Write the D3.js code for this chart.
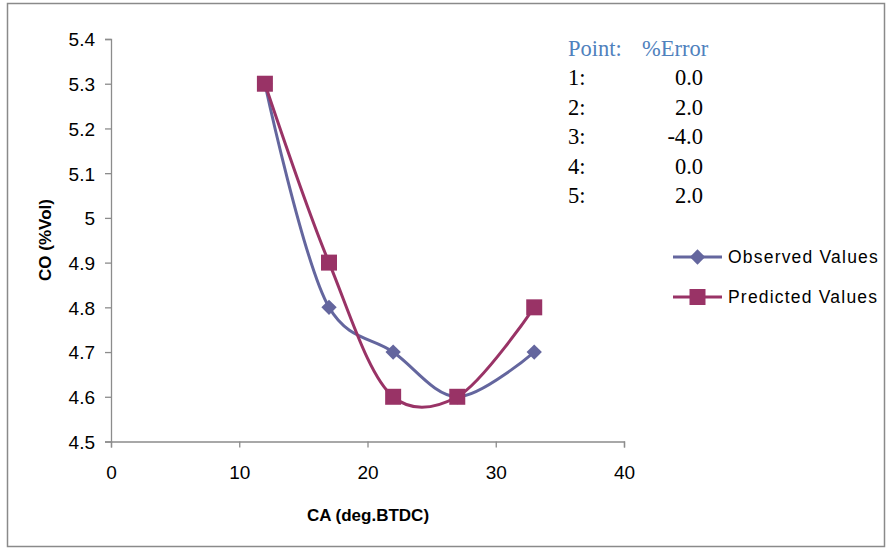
<!DOCTYPE html>
<html>
<head>
<meta charset="utf-8">
<script src="https://cdn.jsdelivr.net/npm/d3@7"></script>
<style>
  body { margin: 0; background: #fff; }
  svg { display: block; }
</style>
</head>
<body>
<script>
var caValues = [12, 17, 22, 27, 33]
var observedValues = [5.3, 4.8, 4.7, 4.6, 4.7]
var predictedValues = [5.3, 4.9, 4.6, 4.6, 4.8]

var xTicks = [0, 10, 20, 30, 40]
var yTicks = [4.5, 4.6, 4.7, 4.8, 4.9, 5, 5.1, 5.2, 5.3, 5.4]

var errorPoints = ['1:', '2:', '3:', '4:', '5:']
var errorValues = ['0.0', '2.0', '-4.0', '0.0', '2.0']

var width = 888
var height = 550
var margin = {left: 111, right: 264, top: 39, bottom: 108.5}  // plot area inside the frame

var obsColor = '#64669e'
var predColor = '#993366'

var svg = d3.select('body').append('svg')
  .attr('width', width)
  .attr('height', height)

// outer frame
svg.append('rect')
  .attr('x', 7.5).attr('y', 3.5)
  .attr('width', 877).attr('height', 543)
  .attr('fill', 'white')
  .attr('stroke', '#8a8a8a')
  .attr('stroke-width', 1.5)

var x = d3.scaleLinear()
  .domain([0, 40])
  .range([margin.left, width - margin.right])

var y = d3.scaleLinear()
  .domain([4.5, 5.4])
  .range([height - margin.bottom, margin.top])

var xAxis = d3.axisBottom(x)
  .tickValues(xTicks)
  .tickSize(6)
  .tickPadding(18)

var yAxis = d3.axisLeft(y)
  .tickValues(yTicks)
  .tickFormat(d => d === 5 ? '5' : d3.format('.1f')(d))
  .tickSize(6)
  .tickPadding(10)

var gx = svg.append('g')
  .attr('class', 'axis x')
  .attr('transform', `translate(0,${y(4.5)})`)
  .call(xAxis)

var gy = svg.append('g')
  .attr('class', 'axis y')
  .attr('transform', `translate(${x(0)},0)`)
  .call(yAxis)

svg.selectAll('.axis path, .axis line')
  .attr('stroke', '#8c8c8c')
  .attr('stroke-width', 1.3)
svg.selectAll('.axis text')
  .attr('fill', '#000')
  .style('font-family', '"Liberation Sans", Arial, sans-serif')
  .style('font-size', '19px')
gy.selectAll('text').attr('dy', '0.36em')

// axis titles
svg.append('text')
  .attr('x', 368).attr('y', 521)
  .attr('text-anchor', 'middle')
  .style('font-family', '"Liberation Sans", Arial, sans-serif')
  .style('font-size', '17px')
  .style('font-weight', 'bold')
  .text('CA (deg.BTDC)')

svg.append('text')
  .attr('transform', 'translate(51,240) rotate(-90)')
  .attr('text-anchor', 'middle')
  .style('font-family', '"Liberation Sans", Arial, sans-serif')
  .style('font-size', '17px')
  .style('font-weight', 'bold')
  .text('CO (%Vol)')

// smoothed lines (Excel-style smoothing)
var line = d3.line()
  .x((d, i) => x(caValues[i]))
  .y(d => y(d))
  .curve(d3.curveCatmullRom.alpha(0.25))

svg.append('path')
  .attr('d', line(observedValues))
  .attr('fill', 'none')
  .attr('stroke', obsColor)
  .attr('stroke-width', 3)

svg.append('path')
  .attr('d', line(predictedValues))
  .attr('fill', 'none')
  .attr('stroke', predColor)
  .attr('stroke-width', 3)

var diamond = d3.symbol().type(d3.symbolDiamond2).size(150)
var square = d3.symbol().type(d3.symbolSquare).size(256)

svg.append('g').selectAll('path')
  .data(observedValues)
  .join('path')
  .attr('d', diamond)
  .attr('transform', (d, i) => `translate(${x(caValues[i])},${y(d)})`)
  .attr('fill', obsColor)

svg.append('g').selectAll('path')
  .data(predictedValues)
  .join('path')
  .attr('d', square)
  .attr('transform', (d, i) => `translate(${x(caValues[i])},${y(d)})`)
  .attr('fill', predColor)

// error text box
var box = svg.append('g')
  .style('font-family', '"Liberation Serif", "Times New Roman", serif')
  .style('font-size', '22.5px')

box.append('text').attr('x', 568).attr('y', 56).attr('fill', '#4f81bd').text('Point:')
box.append('text').attr('x', 642).attr('y', 56).attr('fill', '#4f81bd').text('%Error')

box.selectAll('.pt')
  .data(errorPoints)
  .join('text')
  .attr('class', 'pt')
  .attr('x', 568)
  .attr('y', (d, i) => 85 + i * 29.5)
  .text(d => d)

box.selectAll('.err')
  .data(errorValues)
  .join('text')
  .attr('class', 'err')
  .attr('x', 703)
  .attr('y', (d, i) => 85 + i * 29.5)
  .attr('text-anchor', 'end')
  .text(d => d)

// legend
var legendItems = [
  {name: 'Observed Values', color: obsColor, symbol: diamond},
  {name: 'Predicted Values', color: predColor, symbol: square}
]

var legend = svg.append('g').selectAll('g')
  .data(legendItems)
  .join('g')
  .attr('transform', (d, i) => `translate(673,${257 + i * 40})`)

legend.append('line')
  .attr('x1', 0).attr('x2', 49)
  .attr('stroke', d => d.color)
  .attr('stroke-width', 3)

legend.append('path')
  .attr('d', d => d.symbol())
  .attr('transform', 'translate(24.5,0)')
  .attr('fill', d => d.color)

legend.append('text')
  .attr('x', 55)
  .attr('dy', '0.35em')
  .style('font-family', '"Liberation Sans", Arial, sans-serif')
  .style('font-size', '17.5px')
  .style('letter-spacing', '1.2px')
  .text(d => d.name)
</script>
</body>
</html>
